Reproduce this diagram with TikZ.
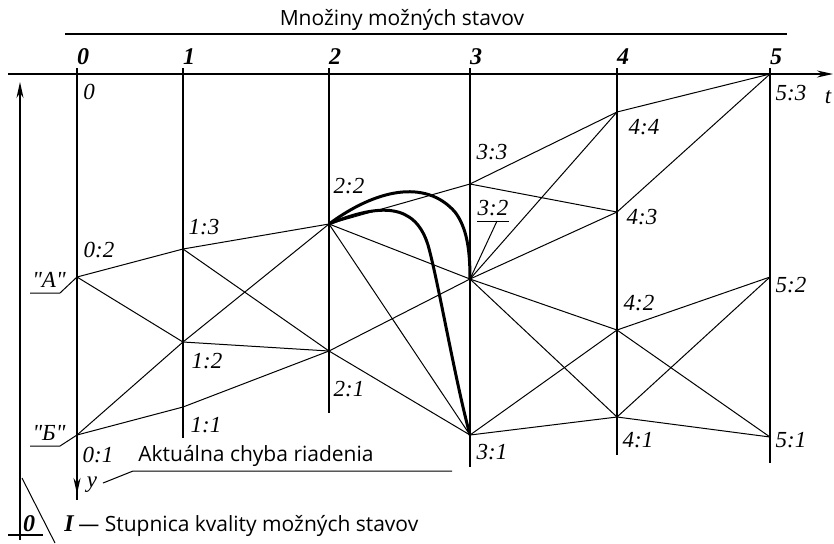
\documentclass[tikz,border=0pt]{standalone}
\usepackage{fontspec}
\setmainfont{Liberation Serif}[Ligatures=TeXOff]
\newfontfamily\capfont{Open Sans}
\usetikzlibrary{arrows.meta}

\begin{document}
\begin{tikzpicture}[x=0.5pt, y=-0.5pt,
      axis/.style={line width=0.9pt},
      tline/.style={line width=0.7pt},
      edge/.style={line width=0.5pt},
      route/.style={line width=1.5pt},
      arr/.style={-{Stealth[length=8pt, width=3.5pt]}, line width=0.9pt},
      lbl/.style={font=\fontsize{11.5}{12}\selectfont\itshape, inner sep=0pt},
      colnum/.style={font=\fontsize{12}{12}\selectfont\bfseries\itshape, inner sep=0pt},
      captxt/.style={font=\capfont\fontsize{10.5}{12}\selectfont, inner sep=0pt}
    ]
    \useasboundingbox (0,0) rectangle (834,543);

    % title over the time axis
    \node[captxt] (title) at (402,20) {Množiny možných stavov};
    \draw[tline] (65,34) -- (787,34);

    % time axis t and the column numbers
    \coordinate (tstart) at (8,74);
    \coordinate (tend)   at (833,74);
    \draw[arr] (tstart) -- (tend);
    \node[lbl] (tlab) at (828,97) {t};
    \foreach \i/\x in {0/77, 1/183, 2/329, 3/470, 4/617, 5/770}
      \node[colnum] (col\i) at (\x+6,57) {\i};

    % vertical time lines
    \coordinate (c0top) at (77,68);  \coordinate (c0bot) at (77,500);
    \coordinate (c1top) at (183,68); \coordinate (c1bot) at (183,438);
    \coordinate (c2top) at (329,68); \coordinate (c2bot) at (329,413);
    \coordinate (c3top) at (470,68); \coordinate (c3bot) at (470,467);
    \coordinate (c4top) at (617,68); \coordinate (c4bot) at (617,455);
    \coordinate (c5top) at (770,68); \coordinate (c5bot) at (770,463);
    \foreach \i in {1,...,5}
      \draw[tline] (c\i top) -- (c\i bot);
    \draw[tline] (c0top) -- (c0bot);
    \coordinate (ytip) at (77,494);
    \draw[arr] (c0top) -- (ytip);
    \node[lbl] (ylab) at (92,485) {y};

    % possible states
    \coordinate (s02) at (77,277);
    \coordinate (s01) at (77,435);
    \coordinate (s13) at (183,249);
    \coordinate (s12) at (183,342);
    \coordinate (s11) at (183,407);
    \coordinate (s22) at (329,224);
    \coordinate (s21) at (329,351);
    \coordinate (s33) at (470,184);
    \coordinate (s32) at (470,279);
    \coordinate (s31) at (470,435);
    \coordinate (s44) at (617,112);
    \coordinate (s43) at (617,212);
    \coordinate (s42) at (617,330);
    \coordinate (s41) at (617,417);
    \coordinate (s53) at (770,74);
    \coordinate (s52) at (770,277);
    \coordinate (s51) at (770,437);

    % transitions between states
    \foreach \a/\b in {s02/s13, s02/s12, s01/s12, s01/s11,
                       s13/s22, s13/s21, s12/s22, s12/s21, s11/s21,
                       s22/s33, s22/s32, s22/s31, s21/s32, s21/s31,
                       s33/s44, s33/s43, s32/s44, s32/s43, s32/s42, s32/s41,
                       s31/s42, s31/s41,
                       s44/s53, s43/s53, s42/s52, s42/s51, s41/s52, s41/s51}
      \draw[edge] (\a) -- (\b);

    % the two trajectories from 2:2
    \draw[route] (s22) .. controls (375,190) and (425,178) .. (455,212)
                       .. controls (467,228) and (470,250) .. (s32);
    \draw[route] (s22) .. controls (380,203) and (415,203) .. (428,245)
                       .. controls (438,280) and (455,380) .. (s31);

    % state labels
    \node[lbl] (l0)  at (89,92)   {0};
    \node[lbl] (l02) at (99,250)  {0:2};
    \node[lbl] (l01) at (98,455)  {0:1};
    \node[lbl] (l13) at (204,227) {1:3};
    \node[lbl] (l12) at (207,361) {1:2};
    \node[lbl] (l11) at (206,425) {1:1};
    \node[lbl] (l22) at (349,186) {2:2};
    \node[lbl] (l21) at (349,389) {2:1};
    \node[lbl] (l33) at (492,152) {3:3};
    \node[lbl] (l32) at (493,208) {3:2};
    \node[lbl] (l31) at (492,452) {3:1};
    \node[lbl] (l44) at (644,127) {4:4};
    \node[lbl] (l43) at (642,217) {4:3};
    \node[lbl] (l42) at (639,303) {4:2};
    \node[lbl] (l41) at (638,440) {4:1};
    \node[lbl] (l53) at (791,93)  {5:3};
    \node[lbl] (l52) at (791,285) {5:2};
    \node[lbl] (l51) at (791,440) {5:1};
    \coordinate (u32) at (477,221);
    \draw[edge] (u32) -- ++(32,0);
    \coordinate (k32) at (497,221);
    \draw[edge] (k32) -- (s32);

    % initial states "A" and "B"
    \node[lbl] (lA) at (49,280) {"A"};
    \node[lbl] (lB) at (49,433) {"Б"};
    \coordinate (uA) at (30,293);
    \coordinate (uB) at (30,446);
    \draw[edge] (uA) -- ++(30,0) -- (s02);
    \draw[edge] (uB) -- ++(30,0) -- (s01);

    % actual control error
    \node[captxt, anchor=west] (err) at (138,456) {Aktuálna chyba riadenia};
    \coordinate (yk) at (103,483);
    \draw[edge] (yk) -- (133,471) -- (452,471);

    % quality scale of the possible states
    \coordinate (qbot) at (20,540);
    \coordinate (qtop) at (20,82);
    \draw[arr] (qbot) -- (qtop);
    \draw[tline] (8,535) -- (43,535);
    \draw[edge] (22,478) -- (55,543);
    \node[colnum] (q0) at (29,524) {0};
    \node[colnum] (qI) at (69,524) {I};
    \node[captxt, anchor=west] (qcap) at (78,526) {— Stupnica kvality možných stavov};
  \end{tikzpicture}
\end{document}
